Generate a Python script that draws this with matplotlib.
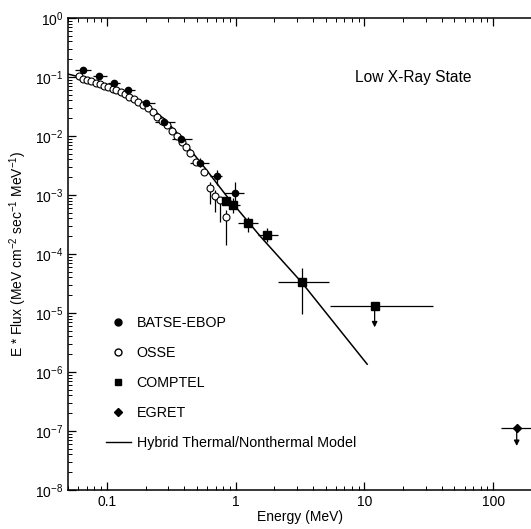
import numpy as np
import matplotlib
matplotlib.use("Agg")
from matplotlib import pyplot as plt

plt.rcParams['font.family'] = ['Liberation Sans', 'DejaVu Sans']
plt.rcParams['mathtext.default'] = 'regular'

# BATSE-EBOP
batse_e = [0.0653, 0.0871, 0.1135, 0.1466, 0.2018, 0.2805, 0.379, 0.526, 0.711, 0.982]
batse_f = [0.130, 0.104, 0.080, 0.0595, 0.0358, 0.0175, 0.00879, 0.00353, 0.0021, 0.00109]
batse_elo = [0.0562, 0.0784, 0.1024, 0.130, 0.171, 0.237, 0.320, 0.445, 0.638, 0.81]
batse_ehi = [0.0758, 0.0996, 0.1265, 0.166, 0.237, 0.340, 0.459, 0.619, 0.787, 1.16]
batse_flo = [0.130, 0.104, 0.080, 0.0595, 0.0358, 0.0175, 0.00752, 0.00302, 0.00148, 0.00068]
batse_fhi = [0.130, 0.104, 0.080, 0.0595, 0.0358, 0.0175, 0.0104, 0.00419, 0.00265, 0.00168]

# OSSE
osse_e = [0.0608, 0.0655, 0.0702, 0.0755, 0.082, 0.088, 0.0948, 0.103, 0.111, 0.119,
          0.128, 0.1375, 0.1486, 0.162, 0.176, 0.191, 0.210, 0.2275, 0.247, 0.270,
          0.292, 0.32, 0.35, 0.383, 0.412, 0.445, 0.493, 0.566, 0.63, 0.689, 0.754, 0.835]
osse_f = [0.1027, 0.0937, 0.089, 0.0845, 0.080, 0.0751, 0.0713, 0.0668, 0.0633, 0.060,
          0.0557, 0.0521, 0.0464, 0.0424, 0.0382, 0.034, 0.0295, 0.0258, 0.0213, 0.0182,
          0.0155, 0.0123, 0.0098, 0.0080, 0.0066, 0.0052, 0.0036, 0.00248, 0.0013, 0.00096, 0.00082, 0.00043]
osse_flo = osse_f[:28] + [0.00071, 0.00052, 0.00035, 0.000142]
osse_fhi = osse_f[:28] + [0.00166, 0.00122, 0.00094, 0.00056]

# COMPTEL
comptel_e = [0.835, 0.959, 1.24, 1.756, 3.26]
comptel_f = [0.0008, 0.00068, 0.00034, 0.000209, 3.3e-5]
comptel_elo = [0.76, 0.88, 1.04, 1.49, 2.115]
comptel_ehi = [0.91, 1.08, 1.48, 2.12, 5.35]
comptel_flo = [0.0008, 0.000495, 0.000239, 0.000162, 9.5e-6]
comptel_fhi = [0.0008, 0.00089, 0.00043, 0.000276, 5.7e-5]
# COMPTEL upper limit
comptel_ul_e, comptel_ul_f = 12.0, 1.31e-5
comptel_ul_elo, comptel_ul_ehi = 5.45, 34.0

# EGRET upper limit
egret_e, egret_f = 152.0, 1.11e-7
egret_elo, egret_ehi = 115.0, 230.0

# Hybrid thermal/nonthermal model
model_e = [0.05, 0.0616, 0.0763, 0.0946, 0.117, 0.146, 0.181, 0.225, 0.279, 0.346,
           0.43, 0.583, 0.861, 1.57, 3.26, 10.5]
model_f = [0.112, 0.100, 0.0873, 0.0732, 0.0626, 0.0505, 0.0392, 0.0287, 0.0194, 0.0117,
           0.0064, 0.0028, 0.00093, 0.000194, 3.29e-5, 1.35e-6]

fig = plt.figure(figsize=(5.31, 5.29), dpi=100)
ax = fig.add_axes([0.128, 0.074, 0.874, 0.892])

ebar = dict(fmt='none', ecolor='black', elinewidth=0.9, capsize=0)

ax.plot(model_e, model_f, color='black', lw=1.1, zorder=2)

be = np.array(batse_e); bf = np.array(batse_f)
ax.errorbar(be, bf, xerr=[be - batse_elo, np.array(batse_ehi) - be],
            yerr=[bf - batse_flo, np.array(batse_fhi) - bf], **ebar)
ax.plot(be, bf, 'o', color='black', ms=4.5, zorder=4)

oe = np.array(osse_e); of = np.array(osse_f)
ax.errorbar(oe, of, yerr=[of - osse_flo, np.array(osse_fhi) - of], **ebar)
ax.plot(oe, of, 'o', mfc='white', mec='black', mew=0.8, ms=5, zorder=3)

ce = np.array(comptel_e); cf = np.array(comptel_f)
ax.errorbar(ce, cf, xerr=[ce - comptel_elo, np.array(comptel_ehi) - ce],
            yerr=[cf - comptel_flo, np.array(comptel_fhi) - cf], **ebar)
ax.plot(ce, cf, 's', color='black', ms=6, zorder=4)

ax.errorbar([comptel_ul_e], [comptel_ul_f],
            xerr=[[comptel_ul_e - comptel_ul_elo], [comptel_ul_ehi - comptel_ul_e]], **ebar)
ax.plot([comptel_ul_e], [comptel_ul_f], 's', color='black', ms=6, zorder=4)
ax.annotate('', xy=(comptel_ul_e, comptel_ul_f / 2.3), xytext=(comptel_ul_e, comptel_ul_f),
            arrowprops=dict(arrowstyle='-|>', color='black', lw=0.9, mutation_scale=8,
                            shrinkA=0, shrinkB=0))

ax.errorbar([egret_e], [egret_f], xerr=[[egret_e - egret_elo], [egret_ehi - egret_e]], **ebar)
ax.plot([egret_e], [egret_f], 'D', color='black', ms=4, zorder=4)
ax.annotate('', xy=(egret_e, egret_f / 2.0), xytext=(egret_e, egret_f),
            arrowprops=dict(arrowstyle='-|>', color='black', lw=0.9, mutation_scale=8,
                            shrinkA=0, shrinkB=0))

ax.set_xscale('log')
ax.set_yscale('log')
ax.set_xlim(0.05, 200)
ax.set_ylim(1e-8, 1)
ax.set_xticks([0.1, 1, 10, 100])
ax.set_xticklabels(['0.1', '1', '10', '100'])
ax.set_yticks([10.0 ** k for k in range(-8, 1)])
ax.set_yticklabels(['$10^{%d}$' % k for k in range(-8, 1)])
ax.tick_params(which='both', direction='in', top=True, right=False, labelsize=10)
ax.tick_params(which='major', length=6, width=0.9)
ax.tick_params(which='minor', length=3, width=0.7)
ax.spines['right'].set_visible(False)
for s in ['left', 'top', 'bottom']:
    ax.spines[s].set_linewidth(1.1)

ax.set_xlabel('Energy (MeV)', fontsize=10, labelpad=1)
ax.set_ylabel('E * Flux (MeV cm$^{-2}$ sec$^{-1}$ MeV$^{-1}$)', fontsize=10, labelpad=4)

ax.text(0.618, 0.865, 'Low X-Ray State', transform=ax.transAxes, fontsize=11.2)

# legend
leg_items = [('o', 'black', 'BATSE-EBOP'), ('o', 'white', 'OSSE'),
             ('s', 'black', 'COMPTEL'), ('D', 'black', 'EGRET')]
handles = []
for m, fc, lab in leg_items:
    h, = ax.plot([], [], m, mfc=fc, mec='black', ms=5 if m != 'D' else 4, label=lab)
    handles.append(h)
h, = ax.plot([], [], '-', color='black', lw=1, label='Hybrid Thermal/Nonthermal Model')
handles.append(h)
ax.legend(handles=handles, loc='lower left', bbox_to_anchor=(0.054, 0.058), frameon=False,
          fontsize=10.3, labelspacing=1.12, handlelength=1.75, handletextpad=0.4, numpoints=1)

fig.savefig('out.png', dpi=100)
